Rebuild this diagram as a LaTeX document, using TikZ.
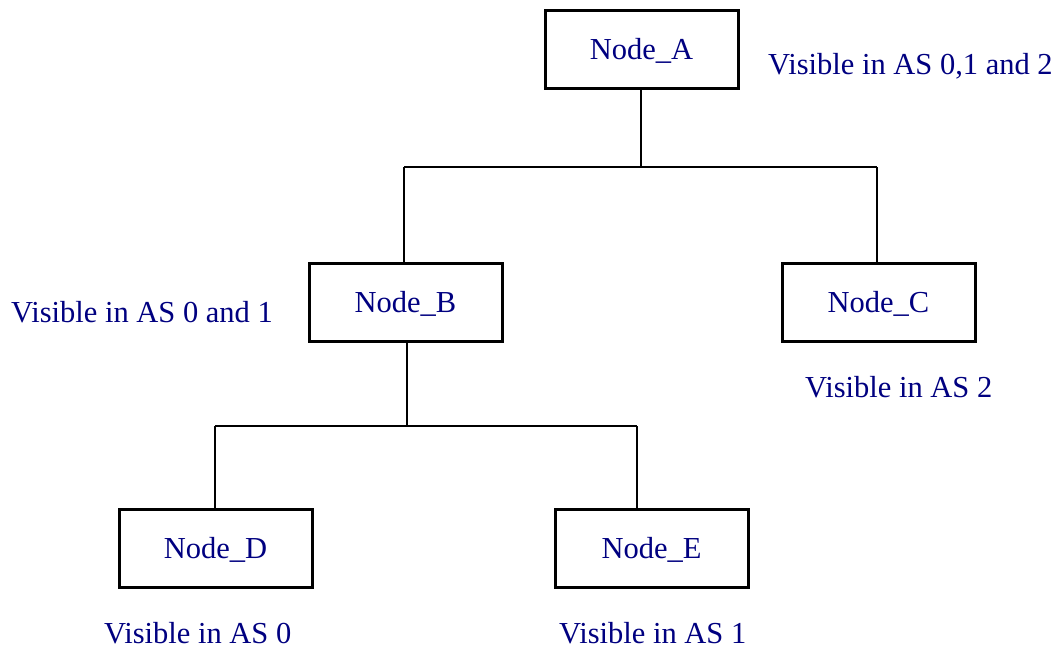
\documentclass[tikz,border=0pt]{standalone}
\usepackage{fontspec}
\setmainfont{Liberation Serif}
\definecolor{navytext}{RGB}{0,0,128}
\begin{document}
\begin{tikzpicture}[x=1pt,y=-1pt,
  treebox/.style={draw=black,line width=3pt,minimum width=193pt,minimum height=78pt,
    inner sep=0pt,text height=20pt,text depth=0pt,text=navytext,
    font=\fontsize{30.5}{36}\selectfont},
  caption/.style={anchor=base west,inner sep=0pt,text=navytext,font=\fontsize{30.5}{36}\selectfont},
  link/.style={draw=black,line width=2.4pt}]
\useasboundingbox (0,0) rectangle (1058,648);

% boxes of the tree
\node[treebox] (A) at (641.5,49) {Node\_A};
\node[treebox] (B) at (405.5,302.5) {Node\_B};
\node[treebox] (C) at (878.5,302.5) {Node\_C};
\node[treebox] (D) at (215.5,548.5) {Node\_D};
\node[treebox] (E) at (651.5,548) {Node\_E};

% branching bars
\coordinate (upL) at (404,167);
\coordinate (upR) at (877,167);
\coordinate (upM) at (641,167);
\coordinate (loL) at (215,426);
\coordinate (loR) at (637,426);
\coordinate (loM) at (407,426);

\draw[link] (A.south -| upM) -- (upM);
\draw[link] (upL) -- (upR);
\draw[link] (upL) -- (upL |- B.north);
\draw[link] (upR) -- (upR |- C.north);
\draw[link] (B.south -| loM) -- (loM);
\draw[link] (loL) -- (loR);
\draw[link] (loL) -- (loL |- D.north);
\draw[link] (loR) -- (loR |- E.north);

% visibility notes
\node[caption] (vA) at (768,74) {Visible in AS 0,1 and 2};
\node[caption] (vB) at (11,322) {Visible in AS 0 and 1};
\node[caption] (vC) at (805,397) {Visible in AS 2};
\node[caption] (vD) at (104,643) {Visible in AS 0};
\node[caption] (vE) at (559,643) {Visible in AS 1};
\end{tikzpicture}
\end{document}
